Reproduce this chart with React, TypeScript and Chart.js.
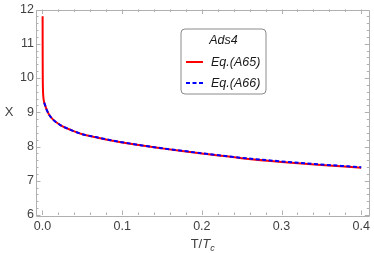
import React, { useEffect, useRef } from "react";
import { Chart, registerables } from "chart.js";

Chart.register(...registerables);

// ---- data ----
const tA65 = [0.0002, 0.00025, 0.0003, 0.0004, 0.0006, 0.001, 0.0017, 0.0034, 0.0055, 0.0088, 0.014, 0.023, 0.036, 0.05, 0.067, 0.0845, 0.1, 0.125, 0.15, 0.175, 0.2, 0.25, 0.3, 0.35, 0.4];
const xA65 = [11.8, 11.0, 10.5, 10.0, 9.7, 9.48, 9.34, 9.2, 9.06, 8.91, 8.77, 8.62, 8.48, 8.36, 8.27, 8.185, 8.12, 8.027, 7.945, 7.868, 7.795, 7.66, 7.55, 7.46, 7.38];
const tA66 = [0.0022, 0.0034, 0.0055, 0.0088, 0.014, 0.023, 0.036, 0.05, 0.067, 0.0845, 0.1, 0.125, 0.15, 0.175, 0.2, 0.25, 0.3, 0.35, 0.4];
const xA66 = [9.28, 9.2, 9.06, 8.91, 8.77, 8.62, 8.48, 8.36, 8.275, 8.19, 8.125, 8.032, 7.95, 7.875, 7.805, 7.67, 7.565, 7.475, 7.395];

const seriesLabels = ["Eq.(A65)", "Eq.(A66)"];
const legendTitle = "Ads4";
const xTickValues = [0, 0.1, 0.2, 0.3, 0.4];
const xTickLabels = ["0.0", "0.1", "0.2", "0.3", "0.4"];
const yTickValues = [6, 7, 8, 9, 10, 11, 12];
const yTickLabels = ["6", "7", "8", "9", "10", "11", "12"];
const xMinorStep = 0.02;
const yMinorStep = 0.2;
const yAxisTitle = "X";

const FONT = "'Liberation Sans', Arial, sans-serif";
const TEXT = "#404040";
const FRAME = "#b0b0b0";

const framePlugin = {
  id: "frame",
  beforeDatasetsDraw(chart: any) {
    const { ctx, chartArea: a, scales } = chart;
    const xs = scales.x, ys = scales.y;
    ctx.save();
    ctx.strokeStyle = FRAME;
    ctx.lineWidth = 1;
    ctx.beginPath();
    ctx.rect(Math.round(a.left) + 0.5, Math.round(a.top) + 0.5, Math.round(a.right - a.left), Math.round(a.bottom - a.top));
    ctx.stroke();
    const drawX = (v: number, len: number) => {
      const p = Math.round(xs.getPixelForValue(v)) + 0.5;
      ctx.moveTo(p, a.bottom); ctx.lineTo(p, a.bottom - len);
      ctx.moveTo(p, a.top); ctx.lineTo(p, a.top + len);
    };
    const drawY = (v: number, len: number) => {
      const p = Math.round(ys.getPixelForValue(v)) + 0.5;
      ctx.moveTo(a.left, p); ctx.lineTo(a.left + len, p);
      ctx.moveTo(a.right, p); ctx.lineTo(a.right - len, p);
    };
    ctx.beginPath();
    const xMax = xTickValues[xTickValues.length - 1];
    for (let i = 0; i * xMinorStep <= xMax + 1e-9; i++) {
      const v = i * xMinorStep;
      const major = xTickValues.some((t) => Math.abs(t - v) < 1e-9);
      drawX(v, major ? 4.5 : 2.5);
    }
    const y0 = yTickValues[0], y1 = yTickValues[yTickValues.length - 1];
    for (let i = 0; y0 + i * yMinorStep <= y1 + 1e-9; i++) {
      const v = y0 + i * yMinorStep;
      const major = yTickValues.some((t) => Math.abs(t - v) < 1e-9);
      drawY(v, major ? 4.5 : 2.5);
    }
    ctx.stroke();
    ctx.restore();
  },
  afterDraw(chart: any) {
    const { ctx, chartArea: a } = chart;
    ctx.save();
    ctx.fillStyle = TEXT;
    // y axis title
    ctx.font = `13px ${FONT}`;
    ctx.textAlign = "center";
    ctx.textBaseline = "middle";
    ctx.fillText(yAxisTitle, 9, 112);
    // x axis title T/T_c
    const cx = (a.left + a.right) / 2 + 0;
    const by = 248;
    ctx.textBaseline = "alphabetic";
    ctx.textAlign = "left";
    const p1 = "T/";
    ctx.font = `13px ${FONT}`;
    const w1 = ctx.measureText(p1).width;
    ctx.font = `italic 13px ${FONT}`;
    const w2 = ctx.measureText("T").width;
    ctx.font = `italic 9px ${FONT}`;
    const w3 = ctx.measureText("c").width;
    let x = cx - (w1 + w2 + w3) / 2;
    ctx.font = `13px ${FONT}`;
    ctx.fillText(p1, x, by); x += w1;
    ctx.font = `italic 13px ${FONT}`;
    ctx.fillText("T", x, by); x += w2;
    ctx.font = `italic 9px ${FONT}`;
    ctx.fillText("c", x, by + 2.5);

    // legend box
    const bx = 181, byTop = 29, bw = 85, bh = 65, r = 4;
    ctx.beginPath();
    ctx.moveTo(bx + r, byTop);
    ctx.arcTo(bx + bw, byTop, bx + bw, byTop + bh, r);
    ctx.arcTo(bx + bw, byTop + bh, bx, byTop + bh, r);
    ctx.arcTo(bx, byTop + bh, bx, byTop, r);
    ctx.arcTo(bx, byTop, bx + bw, byTop, r);
    ctx.closePath();
    ctx.fillStyle = "#ffffff";
    ctx.fill();
    ctx.strokeStyle = "#8a8a8a";
    ctx.lineWidth = 1;
    ctx.stroke();
    ctx.fillStyle = "#1a1a1a";
    ctx.font = `italic 12.5px ${FONT}`;
    ctx.textAlign = "center";
    ctx.textBaseline = "middle";
    ctx.fillText(legendTitle, bx + bw / 2, 41);
    const rows = [62, 83];
    const colors = ["#ff0000", "#0000ff"];
    const dashes = [[], [4, 2.5]];
    rows.forEach((ry, i) => {
      ctx.beginPath();
      ctx.setLineDash(dashes[i]);
      ctx.strokeStyle = colors[i];
      ctx.lineWidth = 2;
      ctx.moveTo(186, ry);
      ctx.lineTo(203, ry);
      ctx.stroke();
      ctx.setLineDash([]);
      ctx.fillStyle = "#1a1a1a";
      ctx.textAlign = "left";
      ctx.fillText(seriesLabels[i], 211, ry + 0.5);
    });
    ctx.restore();
  },
};

export default function App() {
  const ref = useRef<HTMLCanvasElement | null>(null);
  useEffect(() => {
    if (!ref.current) return;
    const chart = new Chart(ref.current, {
      type: "line",
      data: {
        datasets: [
          {
            label: seriesLabels[0],
            data: tA65.map((t, i) => ({ x: t, y: xA65[i] })),
            borderColor: "#ff0000",
            borderWidth: 2,
            pointRadius: 0,
            cubicInterpolationMode: "monotone",
            order: 2,
          },
          {
            label: seriesLabels[1],
            data: tA66.map((t, i) => ({ x: t, y: xA66[i] })),
            borderColor: "#0000ff",
            borderWidth: 2,
            borderDash: [4, 2.5],
            pointRadius: 0,
            cubicInterpolationMode: "monotone",
            order: 1,
          },
        ],
      },
      options: {
        animation: false,
        responsive: false,
        layout: { padding: { top: 8, right: 4, left: 0, bottom: 0 } },
        plugins: { legend: { display: false }, tooltip: { enabled: false } },
        scales: {
          x: {
            type: "linear",
            min: -0.0081,
            max: 0.4101,
            grid: { display: false, drawTicks: false },
            border: { display: false },
            afterBuildTicks: (s: any) => { s.ticks = xTickValues.map((v) => ({ value: v })); },
            afterFit: (s: any) => { s.height = 38; },
            ticks: {
              maxRotation: 0,
              autoSkip: false,
              padding: 4,
              color: TEXT,
              font: { family: FONT, size: 12.5 },
              callback: (v: any) => { const i = xTickValues.findIndex((t) => Math.abs(t - v) < 1e-9); return i >= 0 ? xTickLabels[i] : ""; },
            },
          },
          y: {
            min: 6,
            max: 12,
            grid: { display: false, drawTicks: false },
            border: { display: false },
            afterBuildTicks: (s: any) => { s.ticks = yTickValues.map((v) => ({ value: v })); },
            afterFit: (s: any) => { s.width = 36; },
            ticks: {
              autoSkip: false,
              padding: 2,
              color: TEXT,
              font: { family: FONT, size: 12.5 },
              callback: (v: any) => { const i = yTickValues.findIndex((t) => Math.abs(t - v) < 1e-9); return i >= 0 ? yTickLabels[i] : ""; },
            },
          },
        },
      } as any,
      plugins: [framePlugin],
    });
    return () => chart.destroy();
  }, []);
  return (
    <div style={{ position: "absolute", left: 0, top: 0, width: 374, height: 253, background: "#fff" }}>
      <canvas ref={ref} width={374} height={253} />
    </div>
  );
}
